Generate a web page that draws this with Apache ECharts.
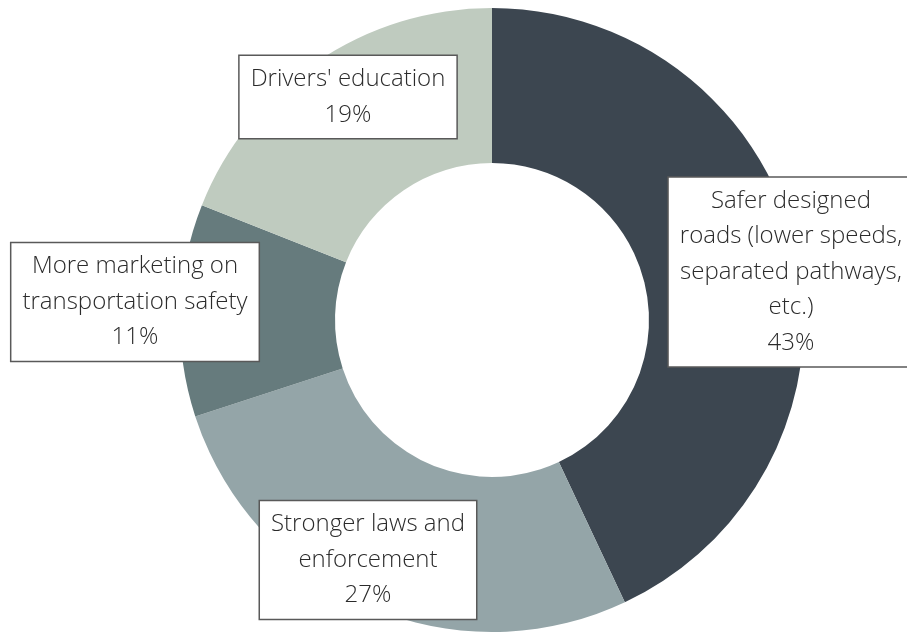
<!DOCTYPE html>
<html>
<head>
<meta charset="utf-8">
<script src="https://cdn.jsdelivr.net/npm/echarts@6/dist/echarts.min.js"></script>
<style>
html,body{margin:0;padding:0;background:#fff;}
#chart{width:907px;height:632px;}
</style>
</head>
<body>
<div id="chart"></div>
<script>
const categories = [
  "Safer designed\nroads (lower speeds,\nseparated pathways,\netc.)",
  "Stronger laws and\nenforcement",
  "More marketing on\ntransportation safety",
  "Drivers' education"
];
const values = [43, 27, 11, 19];
const colors = ["#3c4650", "#94a5a8", "#667b7d", "#bfcbbf"];

// label box centres (layout only)
const labelCentres = [[791, 272], [368, 560], [135, 302], [348, 97]];

const chart = echarts.init(document.getElementById('chart'), null, {renderer: 'canvas'});
chart.setOption({
  animation: false,
  backgroundColor: '#ffffff',
  series: [{
    type: 'pie',
    center: [492, 320],
    radius: [157, 312],
    startAngle: 90,
    clockwise: true,
    silent: true,
    data: categories.map((c, i) => ({name: c, value: values[i], itemStyle: {color: colors[i]}})),
    itemStyle: {borderWidth: 0},
    label: {
      show: true,
      position: 'inside',
      formatter: '{b}\n{c}%',
      fontFamily: '"Open Sans", sans-serif',
      fontWeight: 300,
      fontSize: 24,
      lineHeight: 35.5,
      color: '#2b2b2b',
      align: 'center',
      backgroundColor: '#ffffff',
      borderColor: '#595959',
      borderWidth: 1.5,
      padding: [8, 11, 3, 11]
    },
    labelLine: {show: false},
    labelLayout: function (params) {
      const p = labelCentres[params.dataIndex];
      return {x: p[0], y: p[1], align: 'center', verticalAlign: 'middle'};
    }
  }]
});
</script>
</body>
</html>
